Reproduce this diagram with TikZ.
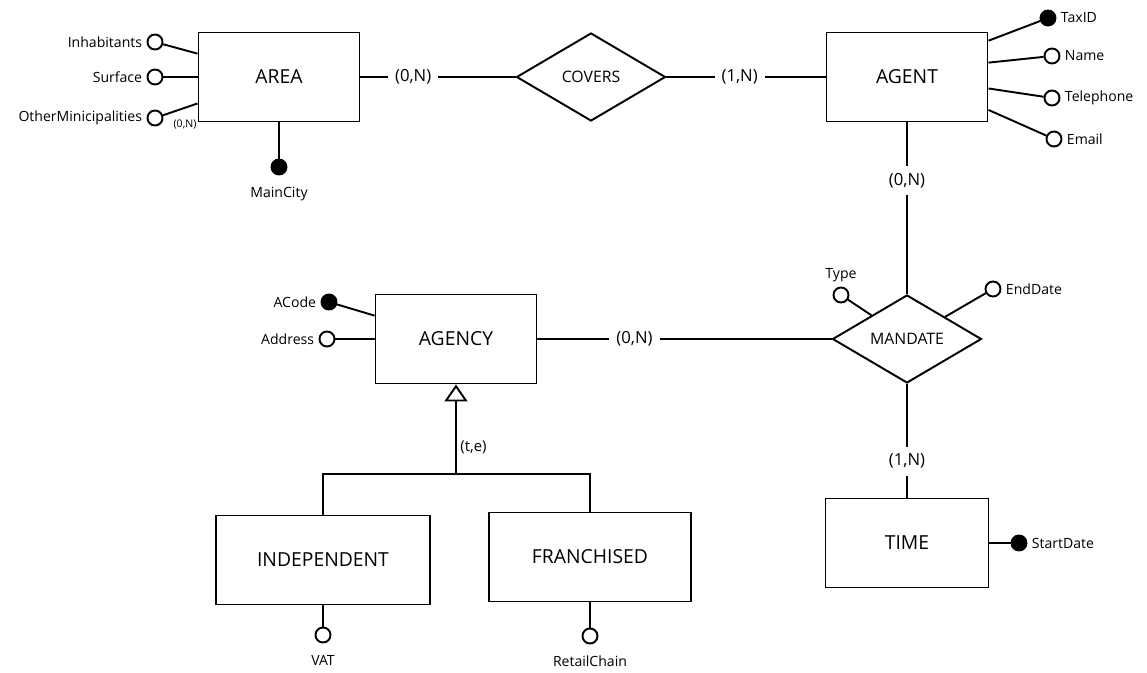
\documentclass[tikz,border=0pt]{standalone}
\usepackage{fontspec}
\setmainfont{Open Sans}
\usetikzlibrary{shapes,arrows.meta,positioning,calc}

\begin{document}
\begin{tikzpicture}[
    line width=1.1pt,
    entity/.style={draw, rectangle, minimum width=3.22cm, minimum height=1.78cm, font=\fontsize{11}{13}\selectfont},
    relation/.style={draw, diamond, inner sep=0pt, minimum width=2.98cm, minimum height=1.76cm, font=\fontsize{9}{11}\selectfont},
    attr/.style={draw, circle, fill=white, minimum size=0.3cm, inner sep=0pt},
    key/.style={attr, fill=black},
    lbl/.style={font=\fontsize{8}{10}\selectfont, inner sep=2pt},
    card/.style={fill=white, font=\fontsize{9.5}{11}\selectfont, inner sep=4pt}
]
    \useasboundingbox (0,0) rectangle (22.94,13.44);

    % AREA
    \node [entity] (area) at (5.58, 11.9) {AREA};
    \node [attr, label={[lbl]left:Inhabitants}] (inhab) at (3.1, 12.6) {};
    \node [attr, label={[lbl]left:Surface}] (surface) at (3.1, 11.9) {};
    \node [attr, label={[lbl]left:OtherMinicipalities}] (othermun) at (3.1, 11.08) {};
    \node [font=\fontsize{6}{7}\selectfont] (othercard) at (3.7, 10.94) {(0,N)};
    \node [key, label={[lbl, label distance=4pt]below:MainCity}] (maincity) at (5.58, 10.1) {};
    \draw (inhab) -- (area.164);
    \draw (surface) -- (area);
    \draw (othermun) -- (area.198);
    \draw (maincity) -- (area);

    % COVERS
    \node [relation] (covers) at (11.82, 11.9) {COVERS};
    \draw (area) -- node[card, pos=0.34] {(0,N)} (covers);

    % AGENT
    \node [entity] (agent) at (18.14, 11.9) {AGENT};
    \node [key, label={[lbl]right:TaxID}] (taxid) at (20.96, 13.08) {};
    \node [attr, label={[lbl]right:Name}] (name) at (21.04, 12.32) {};
    \node [attr, label={[lbl]right:Telephone}] (phone) at (21.04, 11.48) {};
    \node [attr, label={[lbl]right:Email}] (email) at (21.08, 10.66) {};
    \draw (agent.24) -- (taxid);
    \draw (agent.10) -- (name);
    \draw (agent.352) -- (phone);
    \draw (agent.338) -- (email);
    \draw (covers) -- node[card, pos=0.46] {(1,N)} (agent);

    % MANDATE
    \node [relation] (mandate) at (18.14, 6.66) {MANDATE};
    \node [attr, label={[lbl]above:Type}] (type) at (16.82, 7.54) {};
    \node [attr, label={[lbl]right:EndDate}] (enddate) at (19.86, 7.66) {};
    \draw (type) -- (mandate);
    \draw (enddate) -- (mandate);
    \draw (agent) -- node[card, pos=0.34] {(0,N)} (mandate);

    % TIME
    \node [entity, minimum width=3.26cm] (time) at (18.14, 2.58) {TIME};
    \node [key, label={[lbl]right:StartDate}] (startdate) at (20.38, 2.58) {};
    \draw (time) -- (startdate);
    \draw (mandate) -- node[card, pos=0.68] {(1,N)} (time);

    % AGENCY
    \node [entity] (agency) at (9.12, 6.66) {AGENCY};
    \node [key, label={[lbl]left:ACode}] (acode) at (6.58, 7.4) {};
    \node [attr, label={[lbl]left:Address}] (address) at (6.54, 6.66) {};
    \draw (acode) -- (agency.164);
    \draw (address) -- (agency);
    \draw (agency) -- node[card, pos=0.33] {(0,N)} (mandate);

    % INDEPENDENT / FRANCHISED
    \coordinate (gen) at (9.12, 3.96);
    \node [entity, minimum width=4.28cm] (indep) at (6.46, 2.24) {INDEPENDENT};
    \node [entity, minimum width=4.04cm] (franch) at (11.8, 2.3) {FRANCHISED};
    \node [attr, label={[lbl, label distance=4pt]below:VAT}] (vat) at (6.46, 0.74) {};
    \node [attr, label={[lbl, label distance=4pt]below:RetailChain}] (retail) at (11.8, 0.72) {};
    \draw (indep) -- (vat);
    \draw (franch) -- (retail);
    \draw (indep.north) |- (gen) -| (franch.north);
    \draw [-{Triangle[open, length=0.34cm, width=0.46cm]}] (gen) -- node[lbl, right, pos=0.3, font=\fontsize{8.5}{10}\selectfont] {(t,e)} (agency);

\end{tikzpicture}
\end{document}
